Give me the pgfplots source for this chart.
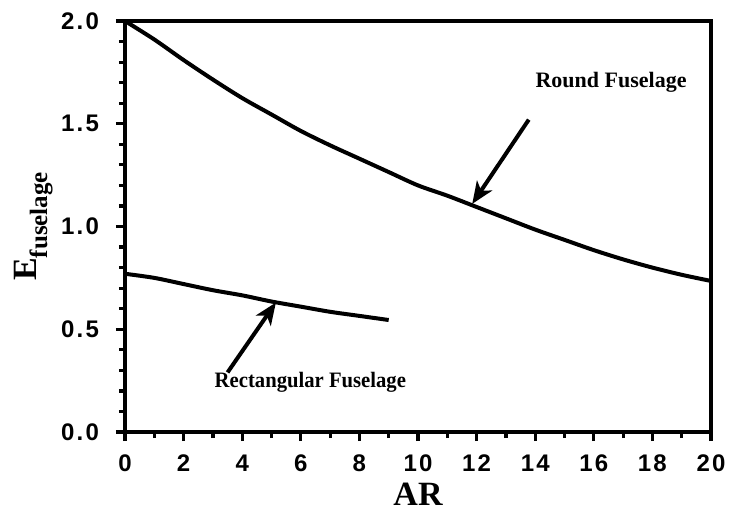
\documentclass[border=0pt]{standalone}
\usepackage{fontspec}
\setmainfont{Liberation Serif}
\newfontfamily\ticksf[LetterSpace=9]{Liberation Sans}
\usepackage{pgfplots}
\pgfplotsset{compat=1.18}
\usetikzlibrary{arrows.meta}

\begin{document}
\begin{tikzpicture}
\begin{axis}[
  scale only axis,
  width=293pt, height=205.5pt,
  xmin=0, xmax=20, ymin=0, ymax=2,
  xtick={0,2,...,20}, minor x tick num=1,
  ytick={0,0.5,1,1.5,2}, minor y tick num=4,
  tick align=outside, tick pos=left,
  major tick length=4.5pt, minor tick length=3pt,
  every tick/.style={line width=1.6pt, black},
  axis line style={line width=2pt},
  /pgf/number format/assume math mode=true,
  ticklabel style={font=\ticksf\bfseries\fontsize{12}{13}\selectfont},
  yticklabel style={xshift=-5pt, /pgf/number format/.cd, fixed, fixed zerofill, precision=1},
  xticklabel style={yshift=-3.5pt},
  xlabel={AR},
  xlabel style={font=\bfseries\fontsize{17}{18}\selectfont, at={(axis description cs:0.5,0)}, anchor=north, inner sep=0pt, yshift=-25.5pt},
  ylabel={E\raisebox{-5.5pt}{\fontsize{12.5}{13}\selectfont fuselage}},
  ylabel style={font=\bfseries\fontsize{17}{18}\selectfont, at={(axis description cs:-0.123,0.5)}, anchor=south, inner sep=0pt},
  clip=false,
]
% Round fuselage
\addplot[black, line width=2pt, smooth] coordinates {
  (0,2.00) (1,1.91) (2,1.81) (3,1.715) (4,1.625) (5,1.545) (6,1.465)
  (7,1.395) (8,1.33) (9,1.265) (10,1.20) (11,1.15) (12,1.095) (13,1.04)
  (14,0.985) (15,0.935) (16,0.885) (17,0.84) (18,0.80) (19,0.765) (20,0.735)
};
% Rectangular fuselage
\addplot[black, line width=2pt, smooth] coordinates {
  (0,0.77) (1,0.75) (2,0.72) (3,0.69) (4,0.665) (5,0.635)
  (6,0.61) (7,0.585) (8,0.565) (9,0.545)
};
\draw[-{Stealth[length=11pt, width=9pt, inset=3pt]}, line width=2pt]
  (axis cs:13.78,1.52) -- (axis cs:11.85,1.11);
\draw[-{Stealth[length=11pt, width=9pt, inset=3pt]}, line width=2pt]
  (axis cs:3.5,0.29) -- (axis cs:5.15,0.63);
\node[anchor=west, font=\bfseries\fontsize{11}{12}\selectfont, inner sep=0pt]
  at (axis cs:14.0,1.70) {Round Fuselage};
\node[anchor=west, font=\bfseries\fontsize{11}{12}\selectfont, inner sep=0pt, xscale=0.94]
  at (axis cs:3.05,0.24) {Rectangular Fuselage};
\end{axis}
\pgfresetboundingbox
\path ([shift={(-62.5pt,-41.5pt)}]current axis.south west)
  rectangle ([shift={(10pt,10.5pt)}]current axis.north east);
\end{tikzpicture}
\end{document}
